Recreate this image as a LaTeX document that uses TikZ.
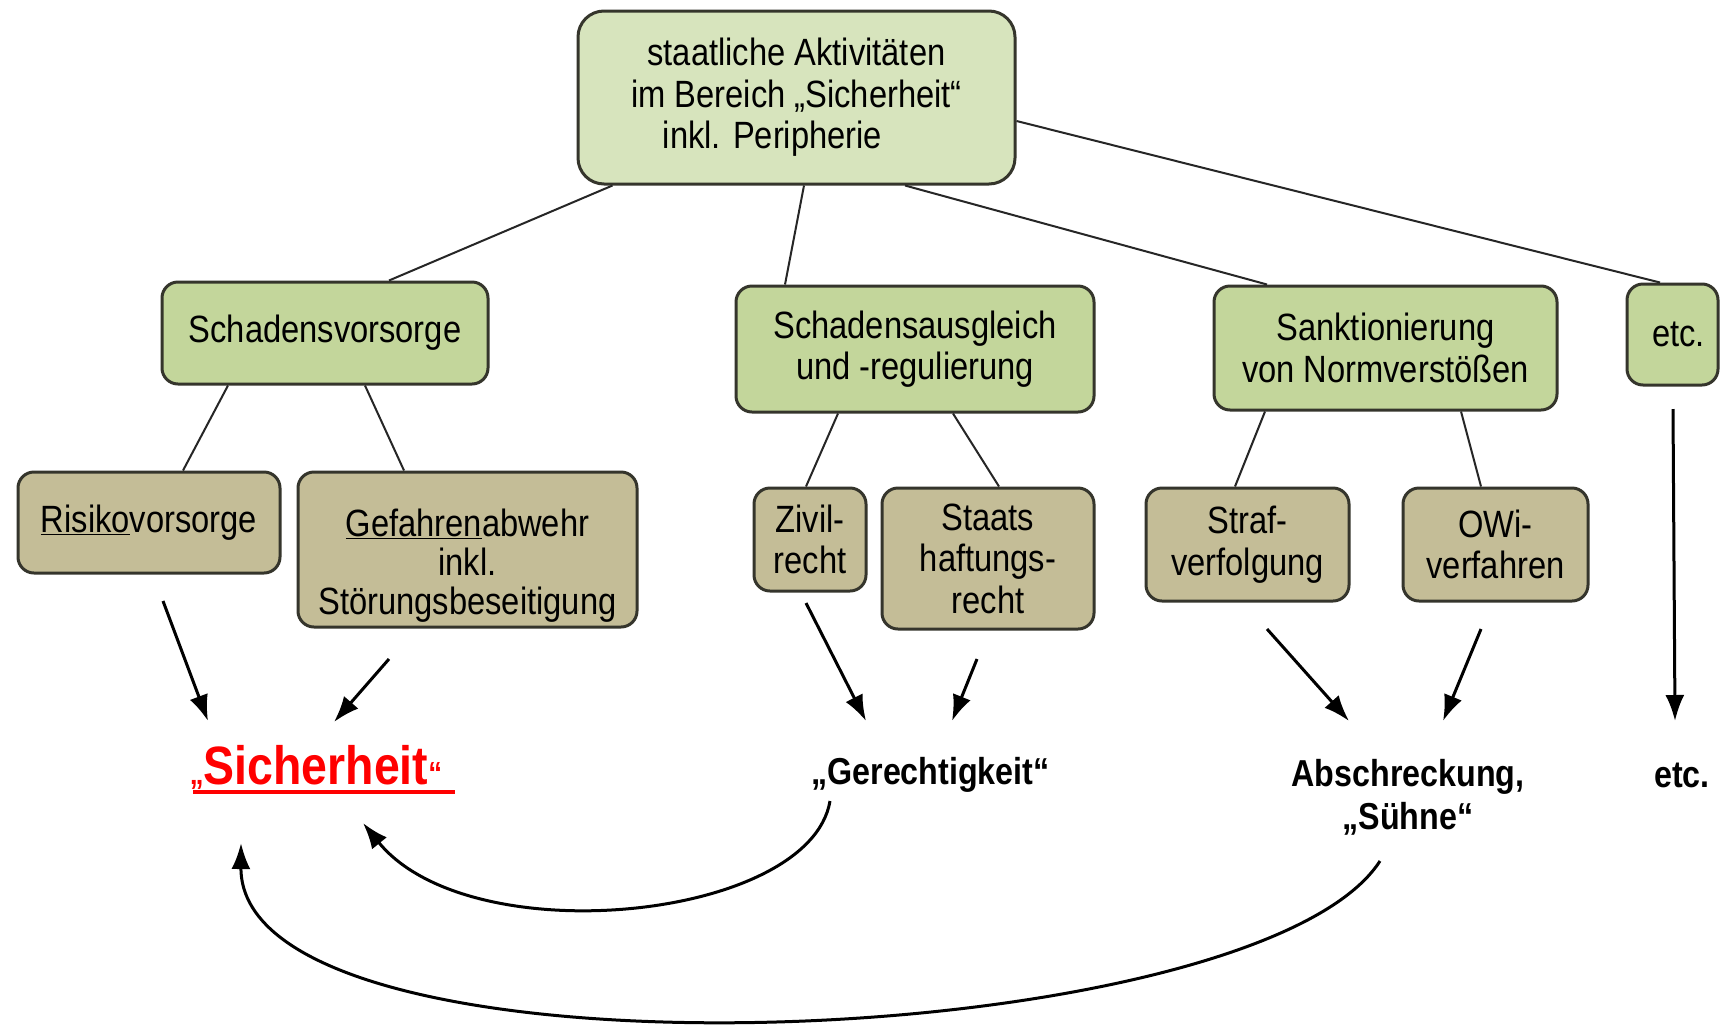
\documentclass[tikz,border=0pt]{standalone}
\usepackage{fontspec}
\setmainfont{Liberation Sans}[FakeStretch=0.86]
\usetikzlibrary{arrows.meta}
\definecolor{topfill}{HTML}{D7E4BD}
\definecolor{midfill}{HTML}{C3D69B}
\definecolor{lowfill}{HTML}{C4BD97}
\definecolor{edgecol}{HTML}{35352C}
\begin{document}
\begin{tikzpicture}[x=1pt,y=-1pt,
  box/.style={draw=edgecol, line width=3pt, rounded corners=16pt, align=center, inner sep=0pt, font=\fontsize{38}{41.5}\selectfont},
  topbox/.style={box, fill=topfill, rounded corners=26pt},
  midbox/.style={box, fill=midfill},
  lowbox/.style={box, fill=lowfill},
  plaintext/.style={align=center, inner sep=0pt, font=\fontsize{38}{39}\selectfont},
  link/.style={draw=black!85, line width=2pt},
  flow/.style={draw=black, line width=3pt, -{Latex[length=26pt,width=19pt]}},
  result/.style={align=center, inner sep=0pt, font=\fontsize{37.5}{43}\selectfont\bfseries},
  underl/.style={draw=red, line width=4pt}
]
\useasboundingbox[fill=white] (0,0) rectangle (1720,1026);

% top
\node[topbox, minimum width=437pt, minimum height=173pt] (top) at (796.5,97.5)
  {staatliche Aktivitäten\\im Bereich „Sicherheit“\\inkl. Peripherie\rule{48pt}{0pt}};

% level 2
\node[midbox, minimum width=326pt, minimum height=102pt] (sv) at (325,333) {Schadensvorsorge};
\node[midbox, minimum width=358pt, minimum height=126pt] (sa) at (915,349) {Schadensausgleich\\und -regulierung};
\node[midbox, minimum width=343pt, minimum height=124pt] (sn) at (1385.5,348) {Sanktionierung\\von Normverstößen};
\node[midbox, minimum width=91pt, minimum height=101pt] (etcbox) at (1672.5,334.5) {\rule{12pt}{0pt}etc.};

% level 3
\node[lowbox, minimum width=262pt, minimum height=101pt] (risk) at (149,522.5) {\underline{Risiko}vorsorge};
\node[lowbox, minimum width=339pt, minimum height=155pt] (gef) at (467.5,549.5) {};
\node[plaintext] (geft) at (467.5,566) {\underline{Gefahren}abwehr\\inkl.\\Störungsbeseitigung};
\node[lowbox, minimum width=112pt, minimum height=103pt] (zivil) at (810,539.5) {Zivil-\\recht};
\node[lowbox, minimum width=212pt, minimum height=141pt] (staats) at (988,558.5) {Staats\\haftungs-\\recht};
\node[lowbox, minimum width=203pt, minimum height=113pt] (straf) at (1247.5,544.5) {Straf-\\verfolgung};
\node[lowbox, minimum width=185pt, minimum height=113pt] (owi) at (1495.5,544.5) {OWi-\\verfahren};

% tree links
\draw[link] ([xshift=36pt]top.south west) -- ([xshift=64pt]sv.north);
\draw[link] ([xshift=7.5pt]top.south) -- ([xshift=-130pt]sa.north);
\draw[link] ([xshift=108.5pt]top.south) -- ([xshift=-118.5pt]sn.north);
\draw[link] ([yshift=-23.5pt]top.east) -- ([xshift=-12.5pt]etcbox.north);
\draw[link] ([xshift=-97pt]sv.south) -- ([xshift=34pt]risk.north);
\draw[link] ([xshift=40pt]sv.south) -- ([xshift=-63.5pt]gef.north);
\draw[link] ([xshift=-77pt]sa.south) -- ([xshift=-4pt]zivil.north);
\draw[link] ([xshift=38pt]sa.south) -- ([xshift=11pt]staats.north);
\draw[link] ([xshift=-120.5pt]sn.south) -- ([xshift=-12.5pt]straf.north);
\draw[link] ([xshift=75.5pt]sn.south) -- ([xshift=-14.5pt]owi.north);

% result labels
\node[result, text=red, font=\fontsize{54}{54}\selectfont\bfseries] (sich) at (316,767)
  {{\fontsize{32}{32}\selectfont„}Sicherheit{\fontsize{32}{32}\selectfont“}};
\draw[underl] (193,792) -- (455,792);
\node[result] (ger) at (930.5,775) {„Gerechtigkeit“};
\node[result] (abs) at (1408,797) {Abschreckung,\\„Sühne“};
\node[result] (etcres) at (1682,775) {etc.};

% arrow end points
\coordinate (r1) at (163,601);  \coordinate (r2) at (208,721);
\coordinate (g1) at (389,659);  \coordinate (g2) at (334,722);
\coordinate (z1) at (806,603);  \coordinate (z2) at (866,721);
\coordinate (s1) at (977,659);  \coordinate (s2) at (952,721);
\coordinate (f1) at (1267,629); \coordinate (f2) at (1349,721);
\coordinate (o1) at (1481,629); \coordinate (o2) at (1443,721);
\coordinate (e1) at (1673,409); \coordinate (e2) at (1675,721);
\coordinate (c1s) at (830,801); \coordinate (c1e) at (363,823);
\coordinate (c2s) at (1380,861); \coordinate (c2e) at (241,843);

\draw[flow] (r1) -- (r2);
\draw[flow] (g1) -- (g2);
\draw[flow] (z1) -- (z2);
\draw[flow] (s1) -- (s2);
\draw[flow] (f1) -- (f2);
\draw[flow] (o1) -- (o2);
\draw[flow] (e1) -- (e2);
\draw[flow] (c1s) .. controls (810,920) and (470,955) .. (c1e);
\draw[flow] (c2s) .. controls (1255,1055) and (240,1095) .. (c2e);
\end{tikzpicture}
\end{document}
